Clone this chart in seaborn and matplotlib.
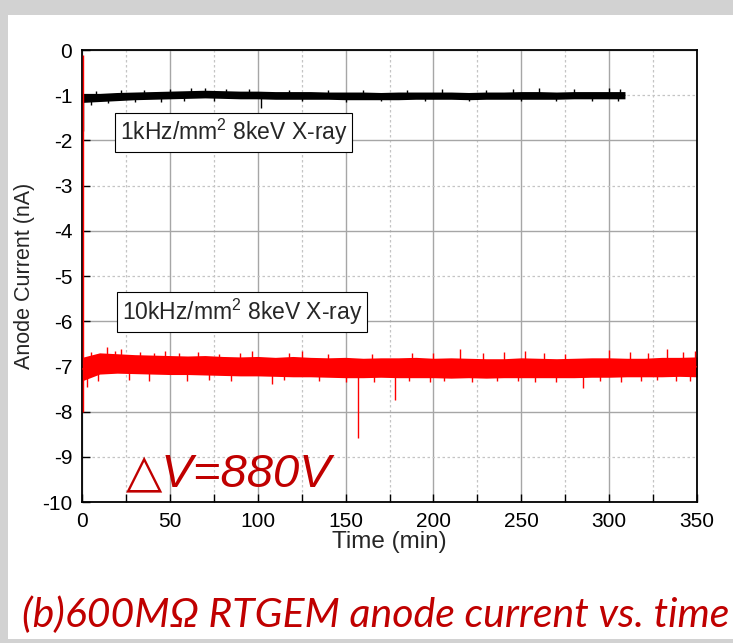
import matplotlib
matplotlib.use('Agg')

import matplotlib.pyplot as plt
import numpy as np
import pandas as pd
import seaborn as sns
from matplotlib.patches import Rectangle
from matplotlib.ticker import MultipleLocator, FuncFormatter

# ------------------------------------------------------------
#     Data
# ------------------------------------------------------------

# time grid of the envelopes [min]
time_red = [0, 10, 20, 30, 40, 50, 60, 70, 80, 90, 100, 110, 120, 130, 140, 150, 160, 170,
            180, 190, 200, 210, 220, 230, 240, 250, 260, 270, 280, 290, 300, 310, 320, 330, 340, 350]
red_upper = [-6.80, -6.70, -6.72, -6.74, -6.75, -6.76, -6.77, -6.76, -6.78, -6.79, -6.78, -6.80,
             -6.78, -6.80, -6.81, -6.80, -6.82, -6.81, -6.81, -6.80, -6.82, -6.81, -6.82, -6.83,
             -6.83, -6.81, -6.82, -6.83, -6.82, -6.81, -6.81, -6.82, -6.82, -6.80, -6.80, -6.79]
red_lower = [-7.32, -7.17, -7.15, -7.16, -7.17, -7.18, -7.18, -7.19, -7.20, -7.21, -7.21, -7.22,
             -7.23, -7.23, -7.24, -7.25, -7.25, -7.24, -7.25, -7.25, -7.25, -7.26, -7.25, -7.26,
             -7.25, -7.25, -7.25, -7.25, -7.25, -7.24, -7.24, -7.23, -7.23, -7.23, -7.22, -7.23]

time_black = [0, 10, 20, 30, 40, 50, 60, 70, 80, 90, 100, 110, 120, 130, 140, 150, 160, 170,
              180, 190, 200, 210, 220, 230, 240, 250, 260, 270, 280, 290, 300, 309]
black_upper = [-0.96, -0.96, -0.94, -0.93, -0.92, -0.91, -0.90, -0.89, -0.90, -0.91, -0.91, -0.92,
               -0.92, -0.92, -0.93, -0.93, -0.93, -0.94, -0.93, -0.93, -0.93, -0.93, -0.94, -0.93,
               -0.93, -0.92, -0.92, -0.93, -0.92, -0.92, -0.92, -0.92]
black_lower = [-1.16, -1.14, -1.12, -1.10, -1.09, -1.08, -1.07, -1.06, -1.07, -1.08, -1.08, -1.09,
               -1.09, -1.09, -1.09, -1.10, -1.10, -1.10, -1.10, -1.09, -1.09, -1.09, -1.10, -1.09,
               -1.09, -1.09, -1.09, -1.09, -1.08, -1.08, -1.08, -1.08]

# needles sticking out of the bands: time [min], value [nA]
red_up_t = [0.3, 5, 14, 19, 22, 33, 41, 47, 55, 66, 78, 90, 97, 118, 125, 140, 165, 188,
            200, 215, 228, 240, 252, 263, 275, 300, 312, 322, 333, 342, 349]
red_up_v = [-0.10, -6.68, -6.57, -6.66, -6.62, -6.68, -6.70, -6.66, -6.70, -6.68, -6.72, -6.70,
            -6.66, -6.70, -6.65, -6.72, -6.72, -6.70, -6.70, -6.62, -6.70, -6.68, -6.66, -6.70,
            -6.72, -6.64, -6.68, -6.70, -6.62, -6.68, -6.66]
red_dn_t = [0.3, 3, 9, 27, 38, 60, 72, 85, 108, 115, 135, 150, 157, 166, 178, 186, 198, 206,
            222, 236, 248, 258, 270, 285, 295, 307, 318, 327, 338, 346]
red_dn_v = [-8.00, -7.45, -7.32, -7.30, -7.33, -7.33, -7.30, -7.32, -7.38, -7.30, -7.32, -7.34,
            -8.58, -7.35, -7.75, -7.33, -7.35, -7.32, -7.35, -7.33, -7.32, -7.35, -7.34, -7.48,
            -7.33, -7.35, -7.32, -7.30, -7.33, -7.32]

black_up_t = [8, 22, 35, 50, 62, 70, 82, 95, 118, 140, 160, 185, 205, 230, 245, 260, 280, 300, 306]
black_up_v = [-0.91, -0.89, -0.88, -0.87, -0.85, -0.83, -0.86, -0.87, -0.88, -0.88, -0.89, -0.88,
              -0.87, -0.88, -0.87, -0.85, -0.87, -0.85, -0.86]
black_dn_t = [0.8, 5, 15, 30, 45, 58, 75, 102, 125, 150, 170, 195, 220, 250, 270, 290, 305]
black_dn_v = [-1.80, -1.22, -1.18, -1.15, -1.14, -1.12, -1.12, -1.28, -1.13, -1.14, -1.13, -1.13,
              -1.13, -1.12, -1.13, -1.12, -1.12]

x_ticks = [0, 50, 100, 150, 200, 250, 300, 350]

# ------------------------------------------------------------
#     Style
# ------------------------------------------------------------

sns.set_style("ticks")
plt.rcParams['font.family'] = ['Liberation Sans', 'DejaVu Sans']
plt.rcParams['axes.unicode_minus'] = False
plt.rcParams['mathtext.fontset'] = 'custom'
plt.rcParams['mathtext.rm'] = 'Liberation Sans'
plt.rcParams['mathtext.default'] = 'regular'

def band_frame(t, lo, hi):
    # long format, two rows per time -> seaborn's pi-100 band spans lower..upper
    return pd.DataFrame({
        "time": list(t) + list(t),
        "current": list(lo) + list(hi),
    })

# ------------------------------------------------------------
#     Plot
# ------------------------------------------------------------

fig = plt.figure(figsize=(7.33, 6.43), dpi=100)
fig.patch.set_facecolor('#d2d2d2')
fig.add_artist(Rectangle((8 / 733, 4 / 643), 1.0, (643 - 19) / 643,
                         transform=fig.transFigure, facecolor='white', edgecolor='none', zorder=0))

ax = fig.add_axes([82 / 733, 1 - 502 / 643, 615 / 733, 452 / 643])
ax.set_facecolor('white')

sns.lineplot(data=band_frame(time_black, black_lower, black_upper), x="time", y="current",
             estimator="mean", errorbar=("pi", 100), color="black", linewidth=0.8,
             err_kws={"alpha": 1, "linewidth": 0}, ax=ax, zorder=3)
ax.vlines(black_up_t, -1.0, black_up_v, color="black", linewidth=1, zorder=3)
ax.vlines(black_dn_t, -1.0, black_dn_v, color="black", linewidth=1, zorder=3)

sns.lineplot(data=band_frame(time_red, red_lower, red_upper), x="time", y="current",
             estimator="mean", errorbar=("pi", 100), color="#ff0000", linewidth=0.8,
             err_kws={"alpha": 1, "linewidth": 0}, ax=ax, zorder=4)
ax.vlines(red_up_t, -7.0, red_up_v, color="#ff0000", linewidth=1, zorder=4)
ax.vlines(red_dn_t, -7.0, red_dn_v, color="#ff0000", linewidth=1, zorder=4)

# axes
ax.set_xlim(0, 350)
ax.set_ylim(-10, 0)
ax.set_xticks(x_ticks)
ax.xaxis.set_minor_locator(MultipleLocator(25))
ax.yaxis.set_major_locator(MultipleLocator(2))
ax.yaxis.set_minor_locator(MultipleLocator(1))
fmt = FuncFormatter(lambda v, p: "%d" % int(round(v)))
ax.yaxis.set_major_formatter(fmt)
ax.yaxis.set_minor_formatter(fmt)
ax.tick_params(which='both', direction='in', length=6, width=1, top=False, right=False,
               labelsize=15, colors='black', pad=7)

ax.grid(which='major', color='#a6a6a6', linewidth=1, linestyle='-', zorder=0)
ax.grid(which='minor', color='#c4c4c4', linewidth=0.9, linestyle=(0, (2, 2)), zorder=0)
ax.set_axisbelow(True)
for s in ax.spines.values():
    s.set_visible(True)
    s.set_color('black')
    s.set_linewidth(1.3)

ax.set_xlabel("Time (min)", fontsize=17.5, labelpad=0)
ax.set_ylabel("Anode Current (nA)", fontsize=15.5, labelpad=5)

# annotations
box = dict(boxstyle='square,pad=0.2', facecolor='white', edgecolor='black', linewidth=0.8)
ax.text(21.5, -1.82, "1kHz/mm$^2$ 8keV X-ray", fontsize=16.5, va='center', ha='left', bbox=box, zorder=5)
ax.text(22.5, -5.8, "10kHz/mm$^2$ 8keV X-ray", fontsize=16.5, va='center', ha='left', bbox=box, zorder=5)
ax.text(25, -9.65, "△V=880V", fontsize=34, style='italic', color='#c00000',
        family=['Liberation Sans', 'DejaVu Sans'], va='baseline', ha='left', zorder=5)

fig.text(22 / 733, 1 - 627 / 643, "(b)600MΩ RTGEM anode current vs. time",
         fontsize=29.5, style='italic', color='#c00000',
         family=['Lato', 'Open Sans', 'DejaVu Sans'], va='baseline', ha='left')

plt.savefig("out.png", dpi=100)
